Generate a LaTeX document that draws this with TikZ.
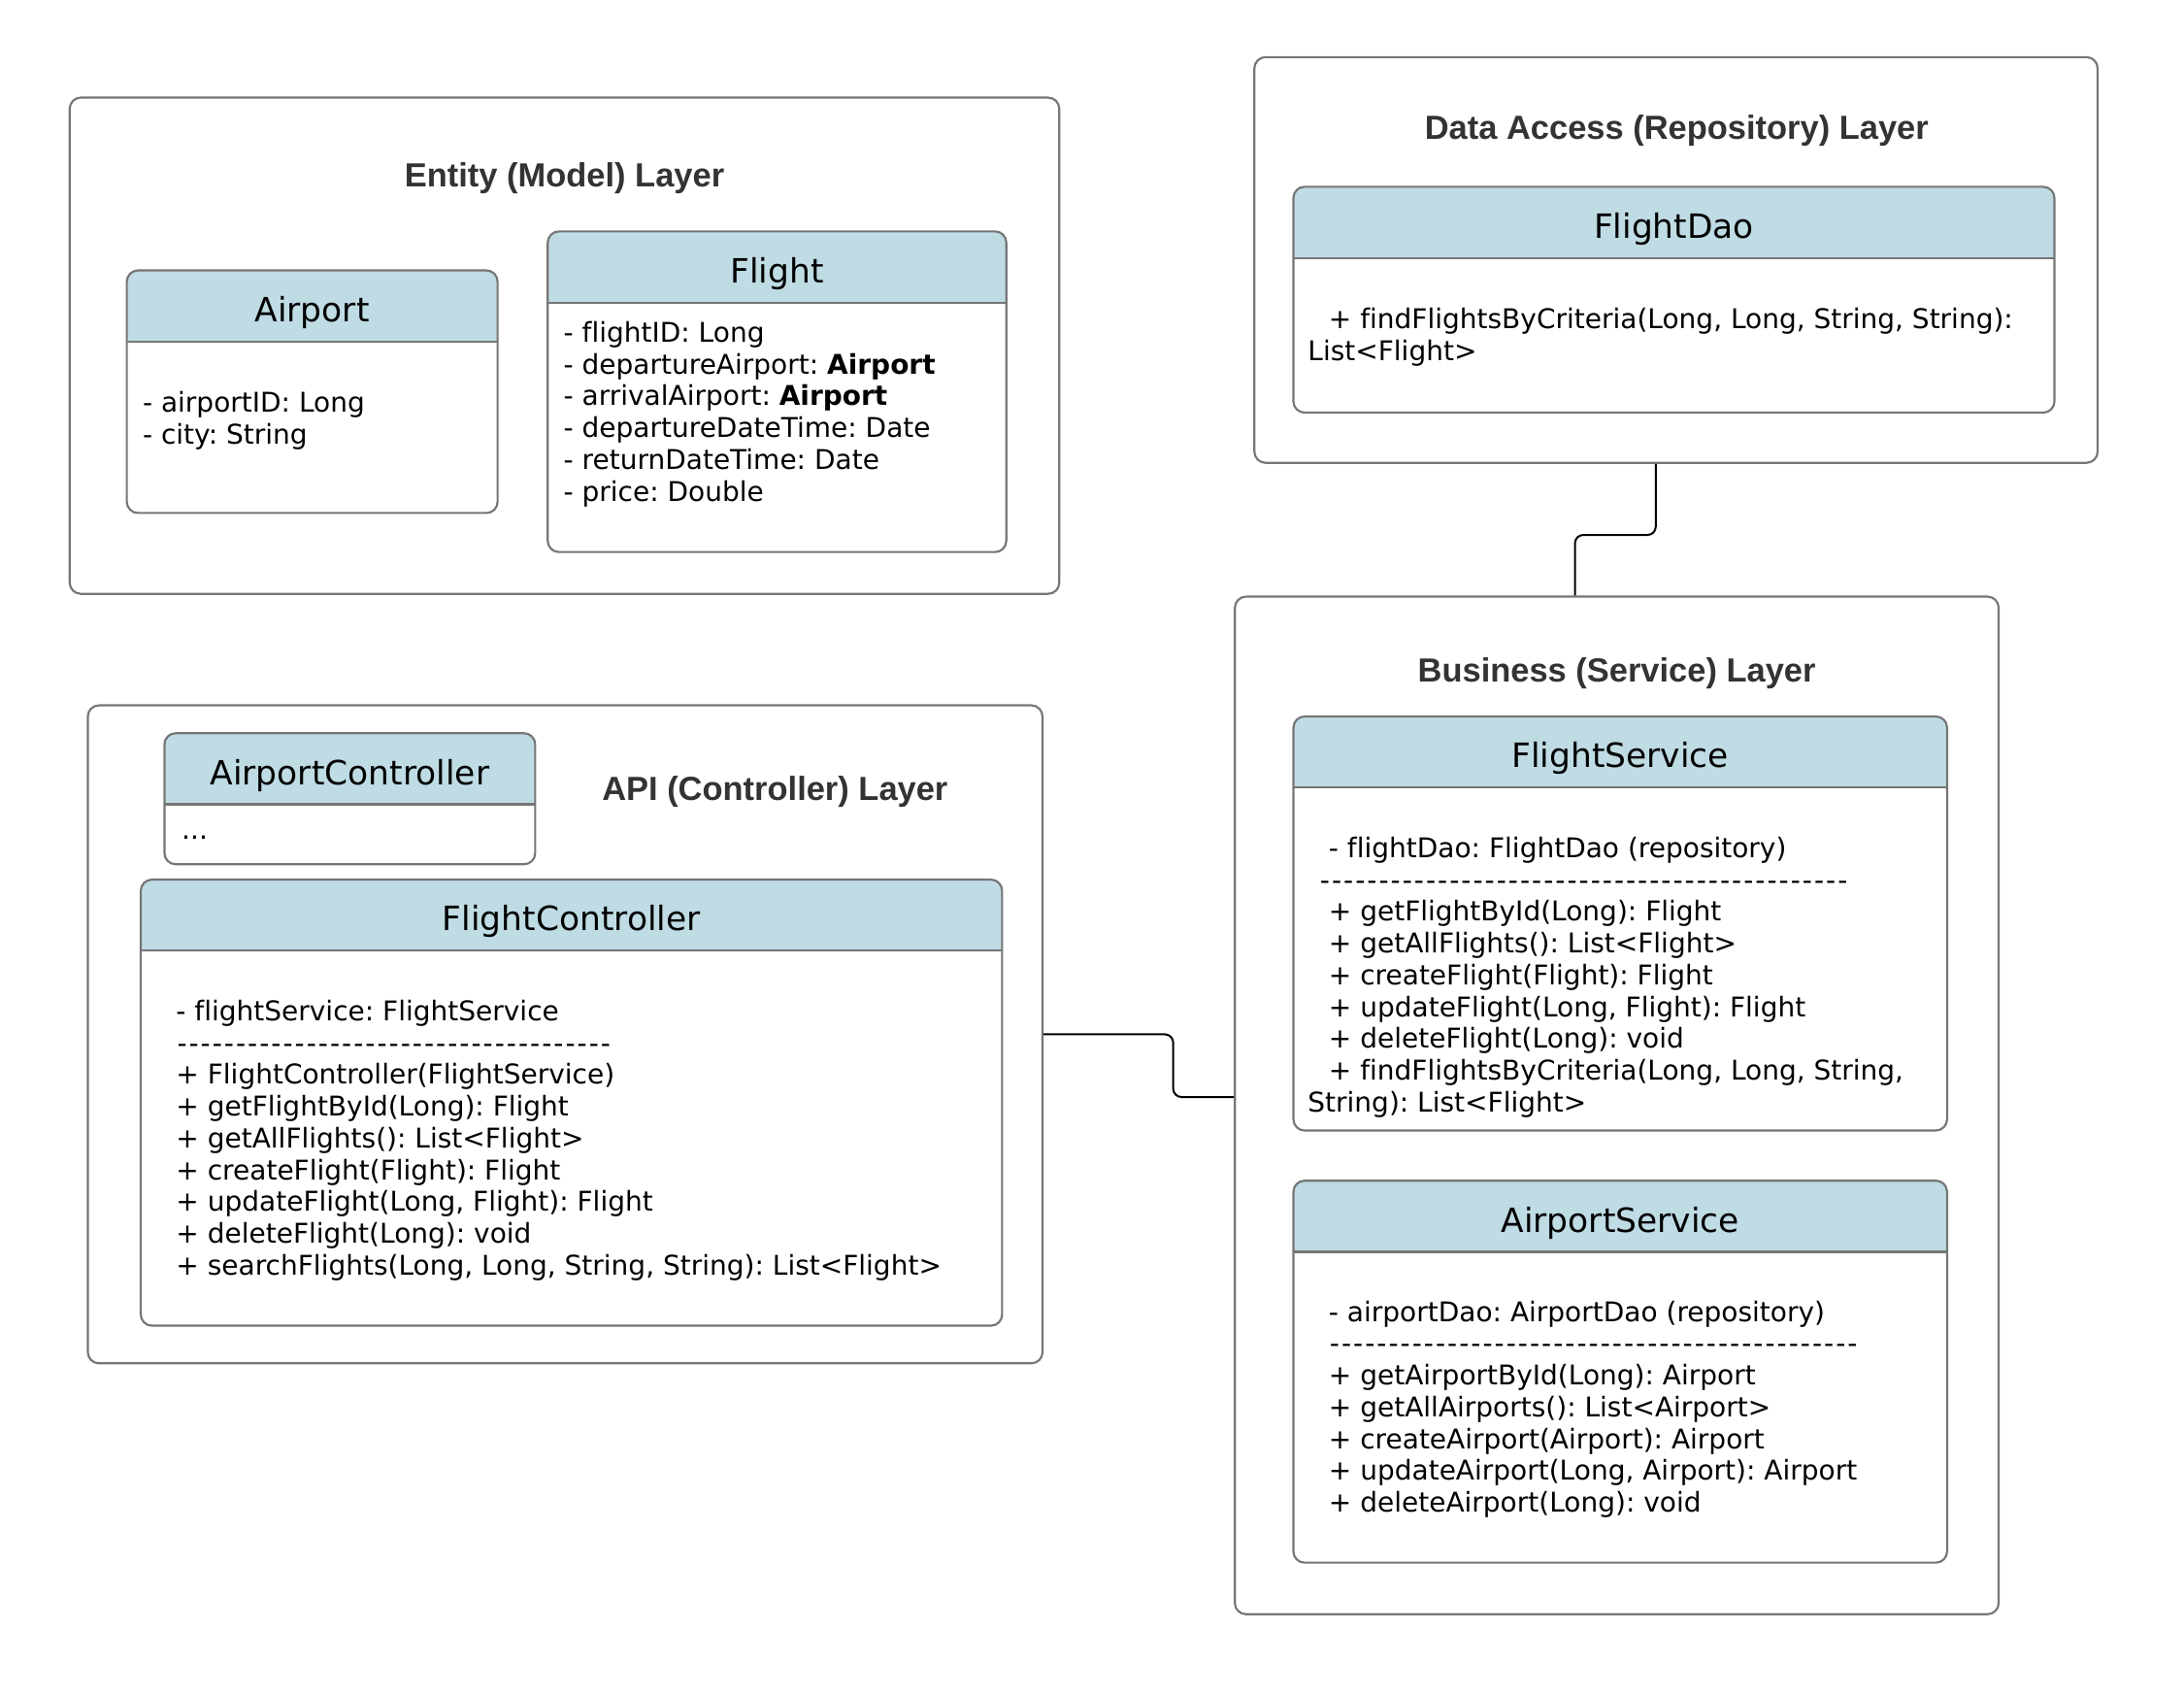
\documentclass[tikz,border=0pt]{standalone}
\usepackage{fontspec}
\setmainfont{DejaVu Sans}[Ligatures=CommonOff]
\newfontfamily\layerfont{Liberation Sans}
\usepackage{tikz}
\usetikzlibrary{fit}

\definecolor{hdrblue}{RGB}{191,219,228}
\definecolor{boxgray}{RGB}{118,118,118}
\definecolor{titlegray}{RGB}{51,51,51}
\newcommand{\dashrow}[1]{\foreach \i in {1,...,#1}{\makebox[4.22pt]{-}}}
\frenchspacing

\tikzset{
  layer/.style={draw=boxgray,line width=0.75pt,rounded corners=4pt,inner sep=0pt},
  layertitle/.style={font=\layerfont\bfseries\fontsize{12}{14}\selectfont,text=titlegray,
    text height=8.6pt,text depth=0pt,inner sep=0pt},
  umlbox/.style={draw=boxgray,line width=0.75pt,rounded corners=4pt,fill=white,inner sep=0pt,
    path picture={
      \fill[hdrblue,sharp corners] (path picture bounding box.north west) rectangle
        ([yshift=-25.5pt]path picture bounding box.north east);
      \draw[boxgray,line width=0.75pt,sharp corners] ([yshift=-25.5pt]path picture bounding box.north west) --
        ([yshift=-25.5pt]path picture bounding box.north east);}},
  umlname/.style={font=\fontsize{12}{14}\selectfont,text height=8.8pt,text depth=0pt,inner sep=0pt},
  umlbody/.style={font=\fontsize{9.75}{11.4}\selectfont,align=left,inner sep=0pt,anchor=west},
  conn/.style={line width=0.7pt,rounded corners=3pt}
}

\begin{document}
\begin{tikzpicture}[x=0.5pt,y=-0.5pt]
  \path[use as bounding box,fill=white] (0,0) rectangle (1567,1216);

  % layers
  \node[layer,fit={(50,70) (760,426)}] (entity) {};
  \node[layer,fit={(900,41) (1505,332)}] (repo) {};
  \node[layer,fit={(886,428) (1434,1158)}] (service) {};
  \node[layer,fit={(63,506) (748,978)}] (api) {};
  \node[layertitle] (entity-t) at (405,125.5) {Entity (Model) Layer};
  \node[layertitle] (repo-t) at (1203,91.5) {Data Access (Repository) Layer};
  \node[layertitle] (service-t) at (1160,480.5) {Business (Service) Layer};
  \node[layertitle] (api-t) at (556,565.5) {API (Controller) Layer};

  % entity classes
  \node[umlbox,fit={(91,194) (357,368)}] (airport) {};
  \node[umlname] (airport-n) at (224,222) {Airport};
  \node[umlbody] (airport-b) at (102,302) {- airportID: Long\\- city: String};

  \node[umlbox,fit={(393,166) (722,396)}] (flight) {};
  \node[umlname] (flight-n) at (557.5,194) {Flight};
  \node[umlbody] (flight-b) at (404,297) {- flightID: Long\\
    - departureAirport: \textbf{Airport}\\
    - arrivalAirport: \textbf{Airport}\\
    - departureDateTime: Date\\
    - returnDateTime: Date\\
    - price: Double};

  % repository
  \node[umlbox,fit={(928,134) (1474,296)}] (flightdao) {};
  \node[umlname] (flightdao-n) at (1201,162) {FlightDao};
  \node[umlbody] (flightdao-b) at (938,242) {\hspace*{7.5pt}+ findFlightsByCriteria(Long, Long, String, String):\\
    List<Flight>};

  % services
  \node[umlbox,fit={(928,514) (1397,811)}] (flightsvc) {};
  \node[umlname] (flightsvc-n) at (1162.5,542) {FlightService};
  \node[umlbody] (flightsvc-b) at (938,701) {\hspace*{7.5pt}- flightDao: FlightDao (repository)\\
    \hspace*{4pt}\dashrow{45}\\
    \hspace*{7.5pt}+ getFlightById(Long): Flight\\
    \hspace*{7.5pt}+ getAllFlights(): List<Flight>\\
    \hspace*{7.5pt}+ createFlight(Flight): Flight\\
    \hspace*{7.5pt}+ updateFlight(Long, Flight): Flight\\
    \hspace*{7.5pt}+ deleteFlight(Long): void\\
    \hspace*{7.5pt}+ findFlightsByCriteria(Long, Long, String,\\
    String): List<Flight>};

  \node[umlbox,fit={(928,847) (1397,1121)}] (airportsvc) {};
  \node[umlname] (airportsvc-n) at (1162.5,875) {AirportService};
  \node[umlbody] (airportsvc-b) at (953,1011) {- airportDao: AirportDao (repository)\\
    \dashrow{45}\\
    + getAirportById(Long): Airport\\
    + getAllAirports(): List<Airport>\\
    + createAirport(Airport): Airport\\
    + updateAirport(Long, Airport): Airport\\
    + deleteAirport(Long): void};

  % controllers
  \node[umlbox,fit={(118,526) (384,620)}] (airportctl) {};
  \node[umlname] (airportctl-n) at (251,554) {AirportController};
  \node[umlbody] (airportctl-b) at (130,601) {...};

  \node[umlbox,fit={(101,631) (719,951)}] (flightctl) {};
  \node[umlname] (flightctl-n) at (410,659) {FlightController};
  \node[umlbody] (flightctl-b) at (126,818) {- flightService: FlightService\\
    \dashrow{37}\\
    + FlightController(FlightService)\\
    + getFlightById(Long): Flight\\
    + getAllFlights(): List<Flight>\\
    + createFlight(Flight): Flight\\
    + updateFlight(Long, Flight): Flight\\
    + deleteFlight(Long): void\\
    + searchFlights(Long, Long, String, String): List<Flight>};

  % connectors
  \draw[conn] ([xshift=-7.25pt]repo.south) -- ++(0,51) -| ([xshift=-15pt]service.north);
  \draw[conn] (api.east) -- ++(93,0) |- ([yshift=3pt]service.west);
\end{tikzpicture}
\end{document}
